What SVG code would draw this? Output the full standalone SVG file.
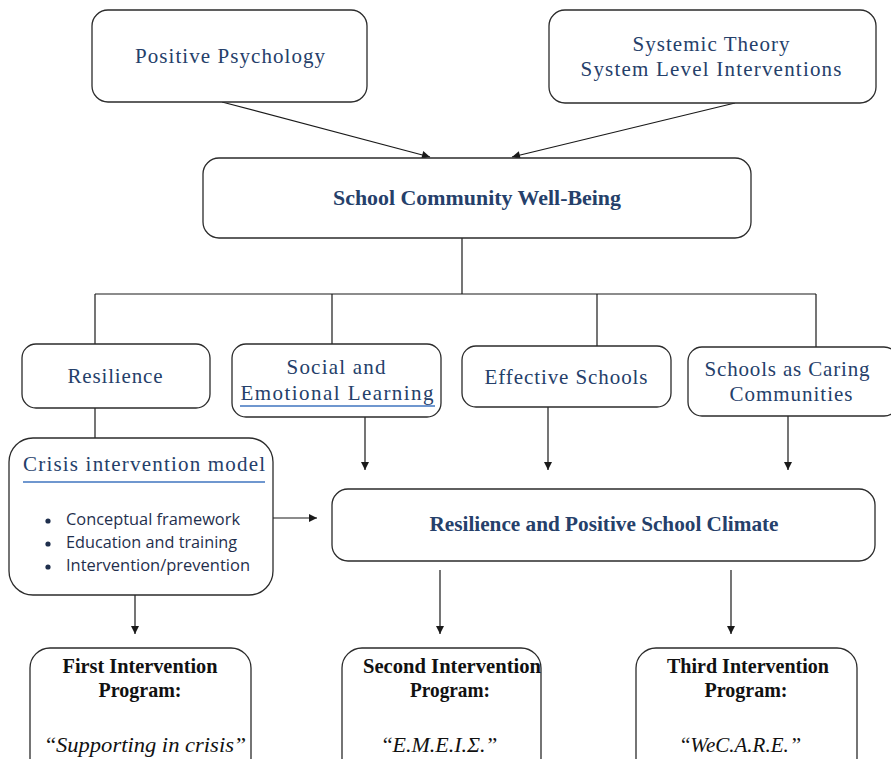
<svg xmlns="http://www.w3.org/2000/svg" width="891" height="759" viewBox="0 0 891 759">
  <style>
    .box { fill: #ffffff; stroke: #2b2b2b; stroke-width: 1.3; }
    .line { fill: none; stroke: #1a1a1a; stroke-width: 1.2; }
    .arrow { fill: none; stroke: #1a1a1a; stroke-width: 1.2; marker-end: url(#head); }
    .t { font-family: "Liberation Serif", "Times New Roman", serif; font-size: 21px; fill: #25406a; text-anchor: middle; }
    .tb { font-family: "Liberation Serif", "Times New Roman", serif; font-size: 22px; font-weight: bold; fill: #25406a; text-anchor: middle; }
    .pb { font-family: "Liberation Serif", "Times New Roman", serif; font-size: 22px; font-weight: bold; fill: #111111; text-anchor: middle; }
    .pi { font-family: "Liberation Serif", "Times New Roman", serif; font-size: 22px; fill: #111111; text-anchor: middle; }
    .bul { font-family: "Open Sans", "Liberation Sans", sans-serif; font-size: 15.5px; fill: #1f2f4d; }
    .ul { stroke: #6f97cf; stroke-width: 2; }
  </style>
  <defs>
    <marker id="head" markerWidth="10" markerHeight="10" refX="9" refY="5" orient="auto" markerUnits="userSpaceOnUse">
      <path d="M1,1 L9,5 L1,9 Z" fill="#1a1a1a"/>
    </marker>
  </defs>

  <!-- connectors -->
  <g id="connectors">
    <line class="arrow" x1="222" y1="102" x2="430" y2="157"/>
    <line class="arrow" x1="735" y1="103" x2="512" y2="157"/>
    <line class="line" x1="462" y1="238" x2="462" y2="294"/>
    <line class="line" x1="95" y1="294" x2="816" y2="294"/>
    <line class="line" x1="95" y1="294" x2="95" y2="344"/>
    <line class="line" x1="332" y1="294" x2="332" y2="344"/>
    <line class="line" x1="597" y1="294" x2="597" y2="346"/>
    <line class="line" x1="816" y1="294" x2="816" y2="347"/>
    <line class="line" x1="95" y1="408" x2="95" y2="438"/>
    <line class="arrow" x1="365" y1="417" x2="365" y2="470"/>
    <line class="arrow" x1="548" y1="407" x2="548" y2="470"/>
    <line class="arrow" x1="788" y1="416" x2="788" y2="470"/>
    <line class="arrow" x1="273" y1="518" x2="317" y2="518"/>
    <line class="arrow" x1="135" y1="595" x2="135" y2="634"/>
    <line class="arrow" x1="440" y1="570" x2="440" y2="634"/>
    <line class="arrow" x1="731" y1="570" x2="731" y2="634"/>
  </g>

  <g id="positive-psychology">
    <rect class="box" x="92" y="10" width="275" height="92" rx="16"/>
    <text class="t" x="230" y="63" textLength="190" lengthAdjust="spacing">Positive Psychology</text>
  </g>

  <g id="systemic-theory">
    <rect class="box" x="549" y="10" width="327" height="93" rx="16"/>
    <text class="t" x="711" y="51" textLength="157" lengthAdjust="spacing">Systemic Theory</text>
    <text class="t" x="711" y="76" textLength="261" lengthAdjust="spacing">System Level Interventions</text>
  </g>

  <g id="well-being">
    <rect class="box" x="203" y="158" width="548" height="80" rx="16"/>
    <text class="tb" x="477" y="205" textLength="288" lengthAdjust="spacingAndGlyphs">School Community Well-Being</text>
  </g>

  <g id="resilience">
    <rect class="box" x="22" y="344" width="188" height="64" rx="14"/>
    <text class="t" x="115" y="383" textLength="95" lengthAdjust="spacing">Resilience</text>
  </g>

  <g id="sel">
    <rect class="box" x="232" y="344" width="209" height="73" rx="14"/>
    <text class="t" x="336" y="374" textLength="99" lengthAdjust="spacing">Social and</text>
    <text class="t" x="337" y="400" textLength="193" lengthAdjust="spacing">Emotional Learning</text>
    <line class="ul" x1="240" y1="406" x2="435" y2="406"/>
  </g>

  <g id="effective-schools">
    <rect class="box" x="462" y="346" width="209" height="61" rx="14"/>
    <text class="t" x="566" y="384" textLength="163" lengthAdjust="spacing">Effective Schools</text>
  </g>

  <g id="caring-communities">
    <rect class="box" x="688" y="347" width="210" height="69" rx="14"/>
    <text class="t" x="787" y="376" textLength="165" lengthAdjust="spacing">Schools as Caring</text>
    <text class="t" x="791" y="401" textLength="123" lengthAdjust="spacing">Communities</text>
  </g>

  <g id="crisis-model">
    <rect class="box" x="9" y="438" width="264" height="157" rx="24"/>
    <text class="t" x="144" y="471" font-size="22" textLength="242" lengthAdjust="spacing">Crisis intervention model</text>
    <line class="ul" x1="23" y1="482" x2="265" y2="482"/>
    <circle cx="48" cy="521" r="2.6" fill="#1f2f4d"/>
    <circle cx="48" cy="544" r="2.6" fill="#1f2f4d"/>
    <circle cx="48" cy="567" r="2.6" fill="#1f2f4d"/>
    <text class="bul" x="66" y="525" textLength="174" lengthAdjust="spacingAndGlyphs">Conceptual framework</text>
    <text class="bul" x="66" y="548" textLength="171" lengthAdjust="spacingAndGlyphs">Education and training</text>
    <text class="bul" x="66" y="571" textLength="184" lengthAdjust="spacingAndGlyphs">Intervention/prevention</text>
  </g>

  <g id="school-climate">
    <rect class="box" x="332" y="489" width="543" height="72" rx="16"/>
    <text class="tb" x="604" y="531" textLength="349" lengthAdjust="spacingAndGlyphs">Resilience and Positive School Climate</text>
  </g>

  <g id="first-program">
    <rect class="box" x="30" y="648" width="221" height="130" rx="20"/>
    <text class="pb" x="140" y="673" textLength="155" lengthAdjust="spacingAndGlyphs">First Intervention</text>
    <text class="pb" x="140" y="697" textLength="83" lengthAdjust="spacingAndGlyphs">Program:</text>
    <text class="pi" x="146" y="752" textLength="200" lengthAdjust="spacingAndGlyphs">“<tspan font-style="italic">Supporting in crisis</tspan><tspan dx="2">”</tspan></text>
  </g>

  <g id="second-program">
    <rect class="box" x="342" y="648" width="199" height="130" rx="20"/>
    <text class="pb" x="452" y="673" textLength="178" lengthAdjust="spacingAndGlyphs">Second Intervention</text>
    <text class="pb" x="450" y="697" textLength="80" lengthAdjust="spacingAndGlyphs">Program:</text>
    <text class="pi" x="440" y="752" font-size="18">“<tspan font-style="italic">Ε.Μ.Ε.Ι.Σ.</tspan><tspan dx="2">”</tspan></text>
  </g>

  <g id="third-program">
    <rect class="box" x="636" y="648" width="221" height="130" rx="20"/>
    <text class="pb" x="748" y="673" textLength="162" lengthAdjust="spacingAndGlyphs">Third Intervention</text>
    <text class="pb" x="746" y="697" textLength="83" lengthAdjust="spacingAndGlyphs">Program:</text>
    <text class="pi" x="741" y="752" textLength="120" lengthAdjust="spacingAndGlyphs">“<tspan font-style="italic">WeC.A.R.E.</tspan><tspan dx="3">”</tspan></text>
  </g>
</svg>
